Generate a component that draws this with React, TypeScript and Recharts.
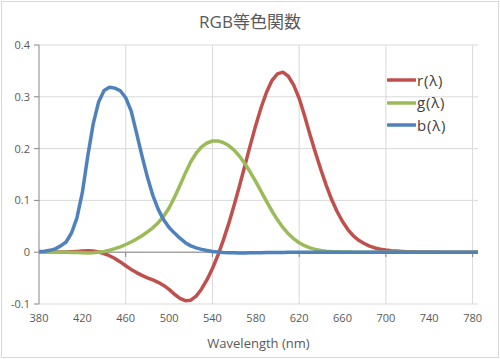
import { LineChart, Line, XAxis, YAxis, CartesianGrid, ReferenceLine, Legend } from "recharts";

// CIE 1931 RGB colour matching functions, 5 nm steps
const wavelengths = [
  380, 385, 390, 395, 400, 405, 410, 415, 420, 425, 430, 435, 440, 445, 450, 455, 460, 465, 470, 475,
  480, 485, 490, 495, 500, 505, 510, 515, 520, 525, 530, 535, 540, 545, 550, 555, 560, 565, 570, 575,
  580, 585, 590, 595, 600, 605, 610, 615, 620, 625, 630, 635, 640, 645, 650, 655, 660, 665, 670, 675,
  680, 685, 690, 695, 700, 705, 710, 715, 720, 725, 730, 735, 740, 745, 750, 755, 760, 765, 770, 775,
  780, 785,
];

const rBar = [
  0.00003, 0.00005, 0.0001, 0.00017, 0.0003, 0.00047, 0.00084, 0.00139, 0.00211, 0.00266, 0.00218, 0.00036,
  -0.00261, -0.00673, -0.01213, -0.01874, -0.02608, -0.03324, -0.03933, -0.04471, -0.04939, -0.05364,
  -0.05814, -0.06414, -0.07173, -0.0812, -0.08901, -0.09356, -0.09264, -0.08473, -0.07101, -0.05316,
  -0.03152, -0.00613, 0.02279, 0.05514, 0.0906, 0.1284, 0.16768, 0.20715, 0.24526, 0.27989, 0.30928,
  0.33184, 0.34429, 0.34756, 0.33971, 0.32265, 0.29708, 0.26348, 0.22677, 0.19233, 0.15968, 0.12905,
  0.10167, 0.07857, 0.05932, 0.04366, 0.03149, 0.02294, 0.01687, 0.01187, 0.00819, 0.00572, 0.0041,
  0.00291, 0.0021, 0.00148, 0.00105, 0.00074, 0.00052, 0.00036, 0.00025, 0.00017, 0.00012, 0.00008,
  0.00006, 0.00004, 0.00003, 0.00001, 0, 0,
];

const gBar = [
  -0.00001, -0.00002, -0.00004, -0.00007, -0.00014, -0.00022, -0.00041, -0.0007, -0.0011, -0.00143,
  -0.00119, -0.00021, 0.00149, 0.00379, 0.00678, 0.01046, 0.01485, 0.01977, 0.02538, 0.03183, 0.03914,
  0.04713, 0.05689, 0.06948, 0.08536, 0.10593, 0.1286, 0.15262, 0.17468, 0.19113, 0.20317, 0.21083,
  0.21466, 0.21487, 0.21178, 0.20588, 0.19702, 0.18522, 0.17087, 0.15429, 0.1361, 0.11686, 0.09754,
  0.07909, 0.06246, 0.04776, 0.03557, 0.02583, 0.01828, 0.01253, 0.00833, 0.00537, 0.00334, 0.00199,
  0.00116, 0.00066, 0.00037, 0.00021, 0.00011, 0.00006, 0.00003, 0.00001, 0.00001, 0, 0, 0, 0, 0, 0, 0,
  0, 0, 0, 0, 0, 0, 0, 0, 0, 0, 0, 0,
];

const bBar = [
  0.00117, 0.00189, 0.00359, 0.00647, 0.01214, 0.01969, 0.03707, 0.06637, 0.11541, 0.18575, 0.24769,
  0.29012, 0.31228, 0.3186, 0.3167, 0.31166, 0.29821, 0.27295, 0.22991, 0.18592, 0.14494, 0.10968,
  0.08257, 0.06246, 0.04776, 0.03688, 0.02698, 0.01842, 0.01221, 0.0083, 0.00549, 0.0032, 0.00146,
  0.00023, -0.00058, -0.00105, -0.0013, -0.00138, -0.00135, -0.00123, -0.00108, -0.00093, -0.00079,
  -0.00063, -0.00049, -0.00038, -0.0003, -0.00022, -0.00015, -0.00011, -0.00008, -0.00005, -0.00003,
  -0.00002, -0.00001, -0.00001, 0, 0, 0, 0, 0, 0, 0, 0, 0, 0, 0, 0, 0, 0, 0, 0, 0, 0, 0, 0, 0, 0, 0, 0,
  0, 0,
];

const xTicks = [380, 420, 460, 500, 540, 580, 620, 660, 700, 740, 780];
const xGrid = [460, 540, 620, 700, 780];
const yTicks = [-0.1, 0, 0.1, 0.2, 0.3, 0.4];

const series = [
  { key: "r", name: "r(λ)", color: "#C0504D" },
  { key: "g", name: "g(λ)", color: "#9BBB59" },
  { key: "b", name: "b(λ)", color: "#4F81BD" },
];

const data = wavelengths.map((w, i) => ({ w, r: rBar[i], g: gBar[i], b: bBar[i] }));

const textColor = "#595959";
const font = "'Open Sans', 'Noto Sans CJK JP', sans-serif";

function LegendBox(props: any) {
  const order = series.map((s) => s.name);
  const items = [...(props.payload || [])].sort(
    (a: any, b: any) => order.indexOf(a.value) - order.indexOf(b.value)
  );
  return (
    <div style={{ fontFamily: font, fontSize: 15, color: "#404040", letterSpacing: 0.8 }}>
      {items.map((e: any) => (
        <div key={e.value} style={{ display: "flex", alignItems: "center", height: 22.5 }}>
          <svg width={29} height={6} style={{ display: "block" }}>
            <line x1={1} y1={3} x2={28} y2={3} stroke={e.color} strokeWidth={3.5} strokeLinecap="round" />
          </svg>
          <span style={{ marginLeft: 1, lineHeight: "15px" }}>{e.value}</span>
        </div>
      ))}
    </div>
  );
}

export default function App() {
  return (
    <div style={{ position: "absolute", left: 0, top: 0, width: 500, height: 359, background: "#fff" }}>
      <div
        style={{
          position: "absolute",
          left: 1,
          top: 1,
          width: 498,
          height: 357,
          border: "1px solid #D9D9D9",
          boxSizing: "border-box",
        }}
      />
      <div
        style={{
          position: "absolute",
          left: 0,
          top: 10,
          width: 500,
          textAlign: "center",
          fontFamily: font,
          fontSize: 17,
          lineHeight: "24px",
          color: textColor,
        }}
      >
        RGB等色関数
      </div>
      <div style={{ position: "absolute", left: 0, top: 0 }}>
        <LineChart width={500} height={359} data={data} margin={{ top: 45, right: 22, left: 0, bottom: 0 }}>
          <CartesianGrid vertical={false} stroke="#D9D9D9" />
          {xGrid.map((x) => (
            <ReferenceLine key={x} x={x} stroke="#D9D9D9" />
          ))}
          <XAxis
            dataKey="w"
            type="number"
            domain={[380, 785]}
            ticks={xTicks}
            interval={0}
            axisLine={false}
            tickLine={false}
            tickMargin={4}
            height={55}
            tick={{ fontSize: 11, fill: textColor, fontFamily: font }}
            label={{
              value: "Wavelength (nm)",
              position: "insideBottom",
              offset: 11,
              fontSize: 13,
              fill: textColor,
              fontFamily: font,
            }}
          />
          <YAxis
            type="number"
            domain={[-0.1, 0.4]}
            ticks={yTicks}
            interval={0}
            width={39}
            stroke="#868686"
            tickSize={5}
            tickMargin={4}
            tick={{ fontSize: 11, fill: textColor, fontFamily: font }}
            tickFormatter={(v: number) => String(v)}
          />
          <ReferenceLine y={0} stroke="#868686" />
          {xGrid.map((x) => (
            <ReferenceLine
              key={"t" + x}
              segment={[
                { x, y: 0 },
                { x, y: -0.0095 },
              ]}
              stroke="#868686"
            />
          ))}
          <Legend
            layout="vertical"
            verticalAlign="middle"
            align="center"
            content={<LegendBox />}
            wrapperStyle={{ left: 387, top: 69, width: 90 }}
          />
          {series.map((s) => (
            <Line
              key={s.key}
              dataKey={s.key}
              name={s.name}
              stroke={s.color}
              strokeWidth={3.5}
              dot={false}
              type="linear"
              strokeLinejoin="round"
              isAnimationActive={false}
            />
          ))}
        </LineChart>
      </div>
    </div>
  );
}
